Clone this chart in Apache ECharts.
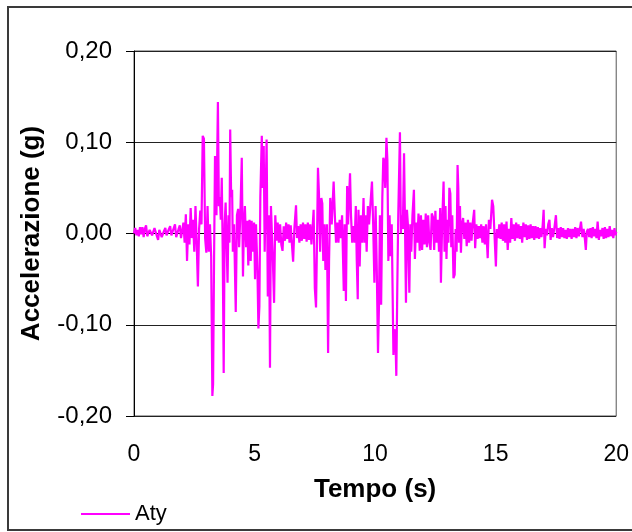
<!DOCTYPE html>
<html>
<head>
<meta charset="utf-8">
<script src="https://cdn.jsdelivr.net/npm/echarts@6/dist/echarts.min.js"></script>
<style>
html,body{margin:0;padding:0;background:#fff;}
#chart{width:632px;height:532px;}
</style>
</head>
<body>
<div id="chart"></div>
<script>
// Time (s)
var timeS = [
0.00,0.05,0.10,0.15,0.20,0.25,0.30,0.35,0.40,0.45,0.50,0.55,0.60,0.65,0.70,0.75,0.80,0.85,0.90,0.95,
1.00,1.05,1.10,1.15,1.20,1.25,1.30,1.35,1.40,1.45,1.50,1.55,1.60,1.65,1.70,1.75,1.80,1.85,1.90,1.95,2.00,
2.05,2.10,2.15,2.20,2.25,2.30,2.35,2.40,2.45,2.50,2.55,2.60,2.65,2.70,2.75,2.80,2.85,2.90,2.95,3.00,
3.05,3.10,3.15,3.20,3.25,3.28,3.32,3.36,3.42,3.48,3.52,3.56,3.60,3.64,3.68,3.72,3.76,3.80,3.84,3.88,
3.92,3.96,3.99,4.03,4.07,4.10,4.15,4.22,4.27,4.32,4.36,4.41,4.47,4.52,4.56,4.60,4.65,4.70,4.74,4.79,
4.84,4.88,4.93,4.98,5.02,5.06,5.12,5.16,5.20,5.24,5.30,5.34,5.38,5.42,5.46,5.50,5.55,5.60,5.64,5.68,
5.72,5.76,5.81,5.86,5.91,5.96,6.01,6.06,6.11,6.16,6.21,6.26,6.31,6.36,6.41,6.45,6.50,6.55,6.60,6.65,
6.72,6.76,6.81,6.86,6.91,6.96,7.01,7.06,7.11,7.16,7.21,7.26,7.31,7.36,7.41,7.45,7.50,7.55,7.60,7.63,
7.67,7.72,7.77,7.81,7.85,7.90,7.94,8.00,8.05,8.09,8.14,8.20,8.28,8.33,8.38,8.43,8.48,8.53,8.58,8.63,
8.70,8.74,8.79,8.84,8.88,8.92,8.96,9.00,9.05,9.10,9.15,9.20,9.24,9.28,9.31,9.36,9.41,9.46,9.52,9.56,
9.60,9.65,9.70,9.75,9.80,9.87,9.92,9.97,10.02,10.07,10.12,10.16,10.20,10.25,10.30,10.34,10.38,10.42,10.47,10.51,
10.55,10.60,10.64,10.69,10.76,10.80,10.84,10.88,10.92,10.96,11.03,11.07,11.10,11.15,11.20,11.24,11.28,11.32,11.36,11.42,
11.46,11.50,11.55,11.61,11.65,11.70,11.75,11.80,11.85,11.90,11.95,12.00,12.05,12.10,12.15,12.20,12.25,12.30,12.35,12.40,
12.45,12.50,12.55,12.60,12.65,12.70,12.73,12.78,12.84,12.88,12.92,12.96,13.00,13.04,13.08,13.12,13.16,13.20,13.25,13.30,
13.34,13.38,13.42,13.45,13.48,13.52,13.56,13.60,13.65,13.70,13.75,13.80,13.85,13.90,13.95,14.00,14.05,14.11,14.15,14.20,
14.25,14.30,14.35,14.40,14.45,14.50,14.55,14.60,14.67,14.72,14.78,14.85,14.90,14.95,15.01,15.05,15.10,15.15,15.20,15.25,
15.30,15.35,15.40,15.45,15.50,15.55,15.60,15.65,15.70,15.75,15.80,15.85,15.90,15.95,16.00,16.05,16.10,16.15,16.20,16.25,
16.30,16.35,16.40,16.45,16.50,16.55,16.60,16.65,16.70,16.75,16.80,16.85,16.90,16.95,16.99,17.03,17.08,17.13,17.18,17.23,
17.28,17.33,17.38,17.44,17.50,17.55,17.60,17.65,17.70,17.75,17.80,17.85,17.90,17.95,18.00,18.05,18.10,18.15,18.20,18.25,
18.30,18.35,18.40,18.45,18.54,18.60,18.65,18.70,18.74,18.78,18.83,18.88,18.93,18.98,19.03,19.08,19.13,19.18,19.23,19.28,
19.33,19.38,19.43,19.48,19.53,19.58,19.63,19.68,19.73,19.78,19.83,19.88,19.93,19.97,20.00
];
// Acceleration Aty (g)
var atyG = [
0.000,0.006,-0.002,0.004,-0.003,0.007,-0.001,0.007,-0.004,0.005,0.009,-0.003,-0.005,0.004,0.006,-0.002,-0.004,0.006,0.007,-0.003,
-0.007,0.004,0.005,-0.004,-0.005,0.003,0.006,-0.002,-0.004,0.005,0.008,-0.002,-0.003,0.006,0.010,-0.004,-0.006,0.005,0.009,-0.005,-0.006,
0.012,-0.010,0.021,-0.030,0.010,-0.012,0.028,-0.005,0.015,-0.020,0.030,-0.010,-0.058,0.005,0.025,0.010,0.107,0.104,-0.005,-0.021,
0.030,-0.020,0.010,-0.025,-0.178,-0.165,-0.030,0.085,0.020,0.144,0.030,0.040,0.015,0.061,-0.020,-0.153,0.010,0.034,-0.010,-0.054,
0.020,-0.010,0.114,0.040,0.048,-0.020,0.010,-0.086,0.020,0.027,-0.015,0.020,0.083,-0.047,0.010,0.030,-0.015,0.014,-0.035,0.015,
-0.030,0.014,-0.020,0.012,-0.050,0.010,-0.040,-0.104,-0.080,0.040,0.107,0.050,0.096,-0.020,0.040,0.103,-0.069,0.020,-0.147,0.030,
0.029,-0.030,-0.076,0.020,-0.008,0.012,-0.010,0.010,-0.012,-0.019,0.008,-0.008,0.012,-0.006,0.010,-0.010,0.009,-0.012,-0.031,0.005,
0.031,-0.005,0.008,-0.010,0.010,-0.008,0.012,-0.006,0.010,-0.009,0.012,-0.007,0.010,-0.012,0.008,0.026,-0.060,-0.081,0.010,0.072,
0.045,-0.020,0.039,0.033,-0.030,0.010,-0.040,0.010,-0.131,-0.030,0.039,0.010,0.057,0.020,-0.010,0.012,-0.010,0.015,-0.005,0.020,
-0.063,0.010,-0.074,0.052,0.010,0.040,0.066,0.020,-0.010,0.008,-0.010,0.030,-0.030,-0.072,0.026,-0.036,0.020,-0.010,0.039,-0.010,
0.020,-0.020,0.030,0.010,0.030,0.057,0.010,-0.054,0.030,-0.040,-0.131,-0.080,0.020,-0.078,0.040,0.083,0.079,0.050,0.105,0.080,
-0.030,0.020,-0.025,0.010,-0.133,-0.105,-0.110,-0.156,-0.060,0.020,0.111,0.000,0.020,0.005,0.088,0.010,-0.076,0.026,0.010,-0.065,
0.010,-0.020,0.020,0.048,-0.028,0.012,-0.010,0.022,-0.019,0.020,-0.018,0.015,-0.012,0.022,-0.015,0.020,-0.010,-0.018,0.022,0.018,
-0.018,0.025,-0.010,0.015,-0.020,0.028,-0.054,0.010,0.057,-0.020,0.030,-0.028,0.015,-0.010,0.050,0.044,-0.015,0.020,-0.049,-0.045,
0.005,-0.020,0.075,0.050,-0.010,0.030,-0.021,0.010,0.017,-0.006,0.012,-0.014,0.015,-0.010,0.012,-0.008,0.012,0.026,-0.016,0.010,
-0.006,0.008,-0.005,0.010,-0.010,0.008,-0.012,0.010,-0.027,0.015,0.005,0.037,0.030,0.000,-0.036,0.005,-0.005,0.010,-0.006,0.012,
-0.008,0.010,-0.010,0.013,-0.018,0.005,-0.010,0.017,-0.006,0.010,-0.008,0.012,-0.005,0.010,-0.006,0.008,-0.010,0.012,-0.004,0.010,
-0.007,0.009,-0.006,0.010,-0.005,0.008,-0.007,0.008,-0.005,0.007,-0.006,0.006,-0.004,0.009,0.026,-0.016,0.005,-0.002,0.010,0.015,
-0.007,0.006,-0.004,0.007,0.020,-0.005,0.006,-0.006,0.007,-0.004,0.006,-0.005,0.004,-0.006,0.006,-0.004,0.005,-0.006,0.005,-0.004,
0.007,-0.005,0.006,-0.003,0.013,-0.004,0.005,-0.006,-0.018,0.002,0.005,-0.004,0.006,-0.005,0.007,-0.003,0.005,-0.005,0.013,-0.007,
0.004,-0.003,0.006,-0.006,0.007,-0.005,0.005,-0.004,0.008,-0.003,0.004,-0.005,0.006,-0.002,0.002
];
var seriesName = 'Aty';
var xTitle = 'Tempo (s)';
var yTitle = 'Accelerazione (g)';

var pairs = timeS.map(function (t, i) { return [t, atyG[i]]; });
var FONT = '"Liberation Sans", Arial, sans-serif';

var chart = echarts.init(document.getElementById('chart'), null, {renderer: 'canvas'});
chart.setOption({
  animation: false,
  backgroundColor: '#ffffff',
  graphic: [{
    type: 'rect', z: -10, silent: true,
    shape: {x: 8, y: 7, width: 650, height: 523},
    style: {fill: 'none', stroke: '#3a3a3a', lineWidth: 2}
  }],
  grid: {
    left: 134, right: 15, top: 51, bottom: 116,
    show: true, borderColor: '#555555', borderWidth: 1, backgroundColor: 'transparent'
  },
  legend: {
    data: [{name: seriesName, icon: 'rect'}],
    left: 76, top: 498,
    itemWidth: 49, itemHeight: 2,
    itemStyle: {color: '#FF00FF', borderWidth: 0},
    textStyle: {fontFamily: FONT, fontSize: 22, color: '#000'}
  },
  xAxis: {
    type: 'value', min: 0, max: 20, interval: 5,
    axisLine: {show: true, lineStyle: {color: '#000', width: 1}},
    axisTick: {show: false},
    splitLine: {show: false},
    axisLabel: {fontFamily: FONT, fontSize: 23, color: '#000', margin: 27},
    name: xTitle, nameLocation: 'middle', nameGap: 61,
    nameTextStyle: {fontFamily: FONT, fontSize: 26, fontWeight: 'bold', color: '#000'}
  },
  yAxis: {
    type: 'value', min: -0.2, max: 0.2, interval: 0.1,
    axisLine: {show: true, lineStyle: {color: '#000', width: 1}},
    axisTick: {show: true, inside: false, length: 8, lineStyle: {color: '#000'}},
    splitLine: {show: true, lineStyle: {color: '#222', width: 1}},
    axisLabel: {
      fontFamily: FONT, fontSize: 24, color: '#000', margin: 22,
      formatter: function (v) { return (Math.abs(v) < 1e-9 ? 0 : v).toFixed(2).replace('.', ','); }
    },
    name: yTitle, nameLocation: 'middle', nameGap: 89,
    nameTextStyle: {fontFamily: FONT, fontSize: 26, fontWeight: 'bold', color: '#000'}
  },
  series: [{
    name: seriesName, type: 'line', data: pairs,
    symbol: 'none', showSymbol: false,
    lineStyle: {color: '#FF00FF', width: 2.2},
    itemStyle: {color: '#FF00FF'},
    z: 3
  }]
});
</script>
</body>
</html>
